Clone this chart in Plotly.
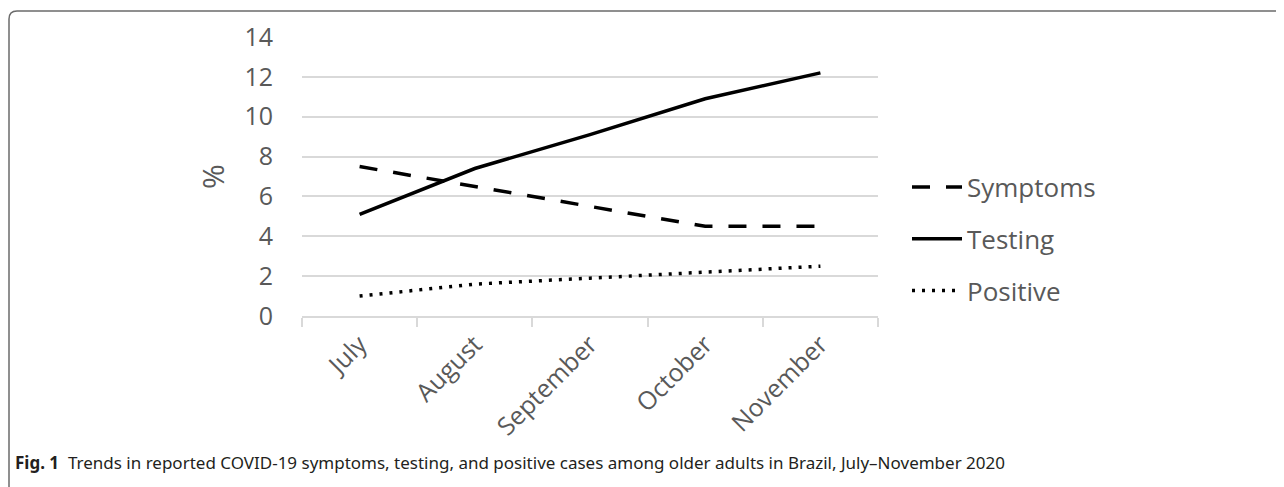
import plotly.graph_objects as go

months = ["July", "August", "September", "October", "November"]
symptoms = [7.5, 6.5, 5.5, 4.5, 4.5]
testing = [5.1, 7.4, 9.1, 10.9, 12.2]
positive = [1.0, 1.6, 1.9, 2.2, 2.5]
y_ticks = [0, 2, 4, 6, 8, 10, 12, 14]
caption_bold = "Fig. 1"
caption_text = "Trends in reported COVID-19 symptoms, testing, and positive cases among older adults in Brazil, July–November 2020"

OFF = 8  # page body margin
W, H = 1284 - OFF, 487 - OFF
L, R, T, B = 302 - OFF, 878 - OFF, 37 - OFF, 316 - OFF  # plot area in pixels


def px(x):
    return (x - OFF - L) / (R - L)


def py(y):
    return (B - (y - OFF)) / (B - T)


GRAY = "#595959"
GRID = "#d9d9d9"
FONT = "Open Sans"

fig = go.Figure()
fig.add_trace(go.Scatter(x=months, y=symptoms, name="Symptoms", mode="lines",
                         legendgroup="a",
                         line=dict(color="black", width=3.5, dash="18px,16px")))
fig.add_trace(go.Scatter(x=months, y=testing, name="Testing", mode="lines",
                         legendgroup="b",
                         line=dict(color="black", width=3.5)))
fig.add_trace(go.Scatter(x=months, y=positive, name="Positive", mode="lines",
                         legendgroup="c",
                         line=dict(color="black", width=3.5, dash="3px,7px")))

# open frame (left + top with rounded corner)
frame = (f"M {px(9)},{py(500)} L {px(9)},{py(19)} "
         f"Q {px(9)},{py(11)} {px(17)},{py(11)} L {px(1290)},{py(11)}")
fig.add_shape(type="path", path=frame, xref="paper", yref="paper",
              line=dict(color="#6b6b6b", width=1.5))

fig.add_annotation(x=px(13), y=py(462), xref="paper", yref="paper",
                   xanchor="left", yanchor="middle", showarrow=False,
                   text=f"<b>{caption_bold}</b>&nbsp;&nbsp;{caption_text}",
                   font=dict(family="Noto Sans", size=17, color="#231f20"))

fig.update_layout(
    width=W, height=H,
    margin=dict(l=L, r=W - R, t=T, b=H - B, autoexpand=False),
    paper_bgcolor="white", plot_bgcolor="white",
    font=dict(family=FONT, color=GRAY),
    showlegend=True,
    legend=dict(x=px(907), y=py(239), xanchor="left", yanchor="middle",
                font=dict(size=26, color=GRAY, family=FONT),
                tracegroupgap=15, itemwidth=50, bgcolor="rgba(0,0,0,0)"),
    xaxis=dict(type="category", showgrid=False, showline=True,
               linecolor=GRID, linewidth=1.5,
               ticks="outside", tickson="boundaries", ticklen=9,
               tickcolor=GRID, tickwidth=1.5,
               tickangle=-45, ticklabelstandoff=2,
               tickfont=dict(size=25, color=GRAY, family=FONT),
               range=[-0.5, 4.5]),
    yaxis=dict(range=[0, 14], tickvals=y_ticks, showgrid=True,
               gridcolor=GRID, gridwidth=1.5, zeroline=False,
               showline=False, ticks="", ticklabelstandoff=28,
               tickfont=dict(size=25, color=GRAY, family=FONT),
               title=dict(text="%", standoff=10,
                          font=dict(size=30, color=GRAY, family=FONT))),
)

fig.write_html("out.html")
